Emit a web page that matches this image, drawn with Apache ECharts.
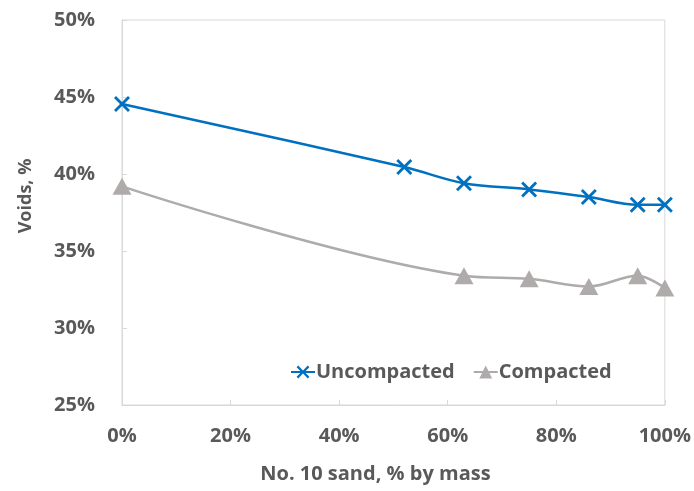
<!DOCTYPE html>
<html>
<head>
<meta charset="utf-8">
<script src="https://cdn.jsdelivr.net/npm/echarts@6/dist/echarts.min.js"></script>
<style>html,body{margin:0;padding:0;background:#fff;}#c{width:694px;height:491px;}</style>
</head>
<body>
<div id="c"></div>
<script>
var sandPctUncompacted = [0, 52, 63, 75, 86, 95, 100];
var voidsUncompacted = [44.55, 40.45, 39.4, 39.0, 38.5, 38.0, 38.0];
var sandPctCompacted = [0, 63, 75, 86, 95, 100];
var voidsCompacted = [39.2, 33.4, 33.2, 32.7, 33.4, 32.6];
var seriesNames = ['Uncompacted', 'Compacted'];
var xTitle = 'No. 10 sand, % by mass';
var yTitle = 'Voids, %';

function zip(a, b) { return a.map(function (v, i) { return [v, b[i]]; }); }

var textColor = '#595959';
var font = 'Open Sans';
var xPath = 'path://M2.5,0 L10,7.5 L17.5,0 L20,2.5 L12.5,10 L20,17.5 L17.5,20 L10,12.5 L2.5,20 L0,17.5 L7.5,10 L0,2.5 Z';

var chart = echarts.init(document.getElementById('c'), null, {renderer: 'canvas'});
chart.setOption({
  animation: false,
  backgroundColor: '#fff',
  textStyle: {fontFamily: font},
  grid: {left: 122, right: 28, top: 20, bottom: 86, show: true, borderColor: '#D9D9D9', borderWidth: 1},
  legend: {
    left: 285, top: 357,
    itemWidth: 24, itemHeight: 16, itemGap: 18,
    textStyle: {color: textColor, fontSize: 20, fontWeight: 'bold', fontFamily: font, padding: [0,0,0,-4]},
    data: seriesNames
  },
  xAxis: {
    type: 'value', min: 0, max: 100, interval: 20,
    name: xTitle, nameLocation: 'middle', nameGap: 59,
    nameTextStyle: {color: textColor, fontSize: 20, fontWeight: 'bold', fontFamily: font, padding: [0, 36, 0, 0]},
    axisLine: {show: true, lineStyle: {color: '#D9D9D9', width: 1}},
    axisTick: {show: true, inside: true, length: 5, lineStyle: {color: '#D9D9D9'}},
    splitLine: {show: false},
    axisLabel: {color: textColor, fontSize: 20, fontWeight: 'bold', fontFamily: font, margin: 21, formatter: '{value}%'}
  },
  yAxis: {
    type: 'value', min: 25, max: 50, interval: 5,
    name: yTitle, nameLocation: 'middle', nameGap: 87,
    nameTextStyle: {color: textColor, fontSize: 18, fontWeight: 'bold', fontFamily: font, padding: [0, 0, 0, 33]},
    axisLine: {show: true, lineStyle: {color: '#D9D9D9', width: 1}},
    axisTick: {show: true, inside: true, length: 5, lineStyle: {color: '#D9D9D9'}},
    splitLine: {show: false},
    axisLabel: {color: textColor, fontSize: 20, fontWeight: 'bold', fontFamily: font, margin: 27, formatter: '{value}%'}
  },
  series: [
    {
      name: seriesNames[0], type: 'line', data: zip(sandPctUncompacted, voidsUncompacted),
      smooth: 0.35, symbol: xPath, symbolSize: 16,
      lineStyle: {color: '#0070C0', width: 2.5},
      itemStyle: {color: '#0070C0'}
    },
    {
      name: seriesNames[1], type: 'line', data: zip(sandPctCompacted, voidsCompacted),
      smooth: 0.35, symbol: 'triangle', symbolSize: [19, 17],
      lineStyle: {color: '#AFABAB', width: 2.5},
      itemStyle: {color: '#AFABAB'}
    }
  ]
});
</script>
</body>
</html>
